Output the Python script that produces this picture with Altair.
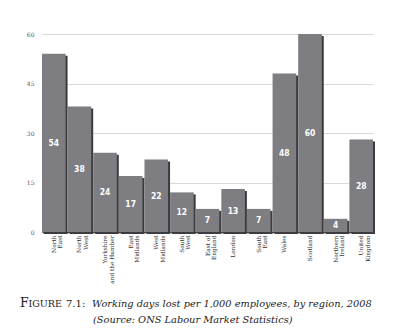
import altair as alt
import pandas as pd

regions = ["North|East", "North|West", "Yorkshire|and the Humber", "East|Midlands",
           "West|Midlands", "South|West", "East of|England", "London", "South|East",
           "Wales", "Scotland", "Northern|Ireland", "United|Kingdom"]
values = [54, 38, 24, 17, 22, 12, 7, 13, 7, 48, 60, 4, 28]
y_ticks = [0, 15, 30, 45, 60]
fig_label_big = ["F"]
fig_label_small = ["IGURE"]
fig_number = ["7.1:"]
caption_lines = ["Working days lost per 1,000 employees, by region, 2008",
                 "(Source: ONS Labour Market Statistics)"]

df = pd.DataFrame({"region": regions, "value": values})
df["mid"] = df["value"] / 2

W, H = 331, 198
BAR = "#7d7d82"
SHADOW = "#3c3c40"
SERIF = "DejaVu Serif"

x_enc = alt.X("region:N", sort=regions,
              scale=alt.Scale(paddingInner=0.08, paddingOuter=0.0),
              axis=alt.Axis(title=None, labelAngle=-90, labelExpr="split(datum.label, '|')",
                            labelFont=SERIF, labelFontSize=5.8, labelColor="#333",
                            labelPadding=3, ticks=False, domain=True, domainColor="#444",
                            domainWidth=1.5, labelLineHeight=6.5))
y_scale = alt.Scale(domain=[0, 60], nice=False)

base = alt.Chart(df)

shadow = base.mark_bar(color=SHADOW, xOffset=2, x2Offset=2, yOffset=2).encode(
    x=x_enc,
    y=alt.Y("value:Q", scale=y_scale,
            axis=alt.Axis(title=None, values=y_ticks, grid=True, gridColor="#d9d9d9",
                          domain=False, ticks=False, labelFont=SERIF,
                          labelFontSize=6, labelColor="#555", labelPadding=8)),
)
bars = base.mark_bar(color=BAR).encode(x=x_enc, y=alt.Y("value:Q", scale=y_scale))
labels = base.mark_text(color="white", font="DejaVu Sans Condensed", fontWeight="bold",
                        fontSize=8.5, baseline="middle").encode(
    x=x_enc, y=alt.Y("mid:Q", scale=y_scale), text="value:Q")


def cap(texts, x, y, size, italic=False):
    kw = dict(font=SERIF, fontSize=size, align="left", baseline="alphabetic", color="#222")
    if italic:
        kw["fontStyle"] = "italic"
    return alt.Chart(pd.DataFrame({"t": texts})).mark_text(**kw).encode(
        x=alt.value(x), y=alt.value(y), text="t:N")


cap1 = cap(fig_label_big, -22, 273, 12.5)
cap2 = cap(fig_label_small, -13.5, 273, 9.5)
cap3 = cap(fig_number, 24, 273, 10)
cap4 = cap(caption_lines[:1], 50, 273, 9.8, italic=True)
cap5 = cap(caption_lines[1:], 51, 289, 9.8, italic=True)

chart = alt.layer(shadow, bars, labels, cap1, cap2, cap3, cap4, cap5).properties(
    width=W, height=H,
    autosize=alt.AutoSizeParams(type="none"),
    padding={"left": 42, "top": 34, "right": 27, "bottom": 104},
    background="white",
).configure_view(stroke=None)

chart.save("out.html", embed_options={"renderer": "svg", "actions": False})
